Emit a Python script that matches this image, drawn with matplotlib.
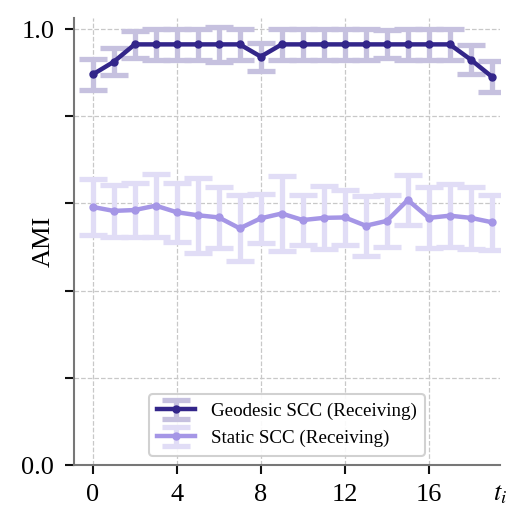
import numpy as np
import matplotlib
matplotlib.use("Agg")
import matplotlib.pyplot as plt

plt.rcParams['font.family'] = ['Liberation Serif', 'DejaVu Serif']
plt.rcParams['mathtext.fontset'] = 'stix'

t = list(range(20))
geo_mean = [0.896, 0.925, 0.965, 0.965, 0.965, 0.965, 0.965, 0.965, 0.937, 0.965,
            0.965, 0.965, 0.965, 0.965, 0.965, 0.965, 0.965, 0.965, 0.930, 0.891]
geo_err = [0.035, 0.031, 0.031, 0.036, 0.035, 0.035, 0.040, 0.035, 0.032, 0.036,
           0.035, 0.035, 0.035, 0.035, 0.032, 0.035, 0.036, 0.035, 0.033, 0.035]
sta_mean = [0.592, 0.583, 0.585, 0.595, 0.580, 0.573, 0.568, 0.543, 0.566, 0.577,
            0.562, 0.567, 0.568, 0.549, 0.560, 0.608, 0.567, 0.572, 0.567, 0.557]
sta_err = [0.065, 0.060, 0.061, 0.073, 0.068, 0.086, 0.069, 0.076, 0.056, 0.086,
           0.057, 0.072, 0.064, 0.069, 0.060, 0.057, 0.070, 0.072, 0.071, 0.063]
labels = ["Geodesic SCC (Receiving)", "Static SCC (Receiving)"]
xticks = [0, 4, 8, 12, 16]
yticks = [0.0, 0.2, 0.4, 0.6, 0.8, 1.0]
yticklabels = ["0.0", "", "", "", "", "1.0"]

fig = plt.figure(figsize=(5.31, 5.30), dpi=100)
ax = fig.add_axes([0.139, 0.1226, 0.803, 0.843])

ax.errorbar(t, geo_mean, yerr=geo_err, color='#33268a', ecolor='#c6c1df',
            elinewidth=3.8, capsize=10, capthick=3.8, lw=3.2, marker='o', ms=5,
            label=labels[0], zorder=3)
ax.errorbar(t, sta_mean, yerr=sta_err, color='#a596e6', ecolor='#e1ddf6',
            elinewidth=3.8, capsize=10, capthick=3.8, lw=3.2, marker='o', ms=5,
            label=labels[1], zorder=2)

ax.set_xlim(-0.9, 19.4)
ax.set_ylim(0, 1.025)
ax.set_xticks(xticks)
ax.set_yticks(yticks)
ax.set_yticklabels(yticklabels)
ax.tick_params(labelsize=19, length=6.5, width=1.5, color='#111111', pad=7.5)
ax.grid(True, ls='--', color='#c8c8c8', lw=0.9)
ax.set_axisbelow(True)
for s in ['top', 'right']:
    ax.spines[s].set_visible(False)
for s in ['left', 'bottom']:
    ax.spines[s].set_color('#777777')
    ax.spines[s].set_linewidth(1.5)

ax.set_ylabel("AMI", fontsize=19)
ax.yaxis.set_label_coords(-0.045, 0.5)
ax.text(1.0, -0.067, "$t_i$", transform=ax.transAxes, fontsize=19,
        ha='center', va='center')

leg = ax.legend(loc='lower center', fontsize=13.7, frameon=True, fancybox=True,
                edgecolor='#cccccc', framealpha=0.9, borderaxespad=0.5,
                handlelength=2.0, borderpad=0.45)
leg.get_frame().set_linewidth(1.5)

fig.savefig("out.png", dpi=100)
